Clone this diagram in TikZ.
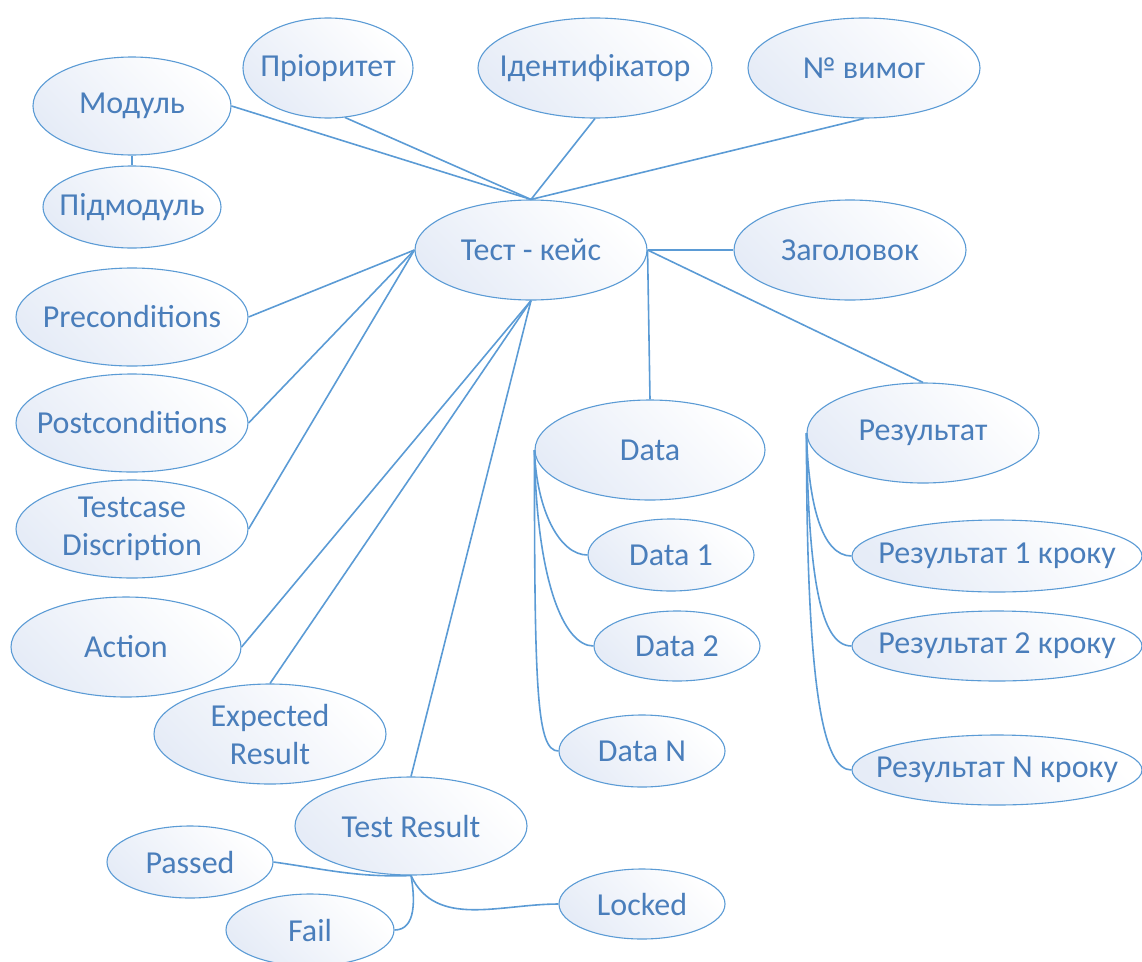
\documentclass[tikz,border=0pt]{standalone}
\usepackage{fontspec}
\setmainfont{Carlito}
\usetikzlibrary{shapes.geometric}
\definecolor{edgeblue}{HTML}{5B9BD5}
\definecolor{textblue}{HTML}{4A7EBB}
\definecolor{shadeblue}{HTML}{E6ECF7}
\tikzset{
  bubble/.style={ellipse, draw=edgeblue, line width=1.1pt, inner sep=0pt,
    left color=shadeblue, right color=white, shading angle=135},
  btext/.style={text=textblue, font=\fontsize{32}{38}\selectfont, align=center,
    inner sep=0pt},
  link/.style={draw=edgeblue, line width=1.6pt}
}
% an ellipse of given size with a centred caption
\newcommand\bub[5]{%
  \node[bubble, minimum width=#3, minimum height=#4,
        label={[btext]center:{#5}}] (#1) at (#2) {};}
\begin{document}
\begin{tikzpicture}[x=1pt, y=-1pt]
\useasboundingbox (0,0) rectangle (1142,961);

% central node and attributes
\bub{tk}{531,250}{232pt}{100pt}{Тест - кейс}
\bub{mod}{132,106}{198pt}{98pt}{Модуль}
\bub{sub}{132,207}{178pt}{82pt}{Підмодуль}
\bub{prio}{328,68}{170pt}{100pt}{Пріоритет}
\bub{ident}{595,68}{234pt}{100pt}{Ідентифікатор}
\bub{req}{864,68}{232pt}{100pt}{№ вимог}
\bub{title}{850,250}{232pt}{100pt}{Заголовок}
\bub{pre}{132,317}{232pt}{98pt}{Preconditions}
\bub{post}{132,423}{232pt}{98pt}{Postconditions}
\bub{desc}{132,529}{232pt}{98pt}{Testcase\\Discription}
\bub{act}{126,647}{230pt}{100pt}{Action}
\bub{exp}{270,734}{232pt}{100pt}{Expected\\Result}

% test result branch
\bub{tr}{411,826}{232pt}{98pt}{Test Result}
\bub{pass}{190,862}{166pt}{72pt}{Passed}
\bub{fail}{310,930}{168pt}{72pt}{Fail}
\bub{lock}{642,904}{166pt}{70pt}{Locked}

% data branch
\bub{data}{650,450}{230pt}{100pt}{Data}
\bub{d1}{671,555}{166pt}{72pt}{Data 1}
\bub{d2}{677,646}{166pt}{70pt}{Data 2}
\bub{dn}{642,751}{166pt}{72pt}{Data N}

% result branch
\bub{res}{923,433}{232pt}{100pt}{Результат}
\bub{r1}{997,556}{290pt}{72pt}{Результат 1 кроку}
\bub{r2}{997,646}{290pt}{70pt}{Результат 2 кроку}
\bub{rn}{997,770}{290pt}{70pt}{Результат N кроку}

% connectors
\path[link] (mod.south) -- (sub.north);
\path[link] (mod.east) -- (tk.north);
\path[link] (prio.-71) -- (tk.north);
\path[link] (ident.south) -- (tk.north);
\path[link] (req.south) -- (tk.north);
\path[link] (tk.east) -- (title.west);
\path[link] (tk.east) -- (data.north);
\path[link] (tk.east) -- (res.north);
\path[link] (tk.west) -- (pre.east);
\path[link] (tk.west) -- (post.east);
\path[link] (tk.west) -- (desc.east);
\path[link] (tk.south) -- (act.east);
\path[link] (tk.south) -- (exp.north);
\path[link] (tk.south) -- (tr.north);

\path[link] (pass.east) to[out=-8, in=182] (tr.south);
\path[link] (tr.south) to[out=-80, in=0] (fail.east);
\path[link] (tr.south) to[out=-65, in=180] (lock.west);

\path[link] (data.west) .. controls +(2,60) and +(-28,0) .. (d1.west);
\path[link] (data.west) .. controls +(2,130) and +(-30,0) .. (d2.west);
\path[link] (data.west) .. controls +(0,240) and +(-22,0) .. (dn.west);

\path[link] (res.west) .. controls +(2,70) and +(-30,0) .. (r1.west);
\path[link] (res.west) .. controls +(2,140) and +(-32,0) .. (r2.west);
\path[link] (res.west) .. controls +(0,260) and +(-28,0) .. (rn.west);
\end{tikzpicture}
\end{document}
